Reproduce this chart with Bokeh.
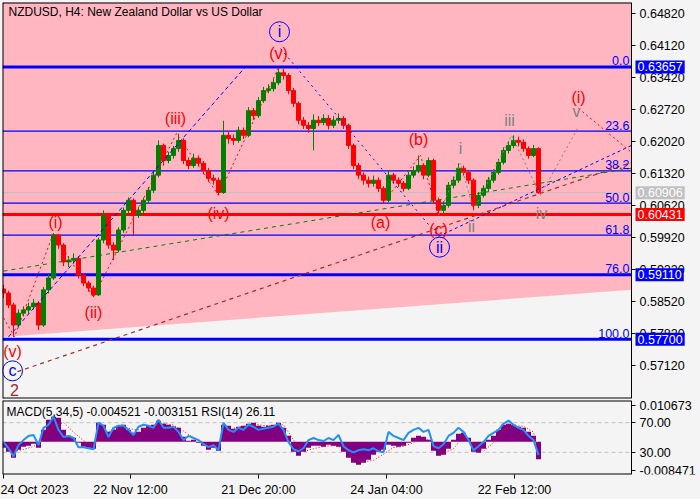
from bokeh.plotting import figure
from bokeh.models import Range1d, FixedTicker, Label, PrintfTickFormatter, ColumnDataSource
from bokeh.layouts import column
from bokeh.embed import file_html
from bokeh.resources import INLINE
from bokeh.core.properties import value

FONT = "Liberation Sans"
BG = "#f4f4f4"
PINK = "#ffb6c1"

# ---------------- data (NZDUSD H4, one sample every 5 bars) ----------------
bar_step = 5
first_open = 0.5880
closes = [0.5871,0.5845,0.5801,0.5827,0.5834,0.5841,0.5849,0.5801,0.5878,0.5904,
          0.5998,0.5976,0.5939,0.5943,0.5947,0.5910,0.5893,0.5882,0.5867,0.5987,
          0.6041,0.5976,0.5965,0.6009,0.6052,0.6074,0.6041,0.6052,0.6074,0.6096,
          0.6129,0.6194,0.6161,0.6172,0.6187,0.6205,0.6161,0.6150,0.6166,0.6155,
          0.6139,0.6122,0.6118,0.6091,0.6216,0.6209,0.6205,0.6227,0.6216,0.6270,
          0.6259,0.6292,0.6314,0.6318,0.6331,0.6353,0.6347,0.6314,0.6286,0.6249,
          0.6238,0.6231,0.6249,0.6244,0.6253,0.6238,0.6249,0.6253,0.6238,0.6194,
          0.6150,0.6129,0.6118,0.6111,0.6118,0.6100,0.6074,0.6129,0.6118,0.6111,
          0.6100,0.6129,0.6139,0.6150,0.6129,0.6161,0.6074,0.6052,0.6063,0.6107,
          0.6118,0.6144,0.6135,0.6118,0.6063,0.6085,0.6100,0.6118,0.6135,0.6157,
          0.6183,0.6194,0.6205,0.6201,0.6187,0.6172,0.6187,0.60906]
highs = [0.5889,0.5876,0.5850,0.5835,0.5842,0.5850,0.5858,0.5853,0.5884,0.5912,
         0.6002,0.6000,0.5980,0.5952,0.5958,0.5952,0.5915,0.5898,0.5887,0.5992,
         0.6052,0.6045,0.5982,0.6015,0.6058,0.6080,0.6078,0.6060,0.6080,0.6103,
         0.6136,0.6205,0.6198,0.6180,0.6193,0.6220,0.6210,0.6168,0.6176,0.6172,
         0.6160,0.6145,0.6130,0.6124,0.6248,0.6225,0.6218,0.6235,0.6233,0.6278,
         0.6276,0.6300,0.6322,0.6328,0.6340,0.6364,0.6362,0.6352,0.6320,0.6290,
         0.6256,0.6245,0.6262,0.6258,0.6262,0.6260,0.6258,0.6264,0.6258,0.6242,
         0.6198,0.6156,0.6135,0.6126,0.6128,0.6124,0.6105,0.6140,0.6134,0.6124,
         0.6116,0.6136,0.6148,0.6172,0.6155,0.6168,0.6165,0.6080,0.6072,0.6114,
         0.6126,0.6155,0.6150,0.6140,0.6122,0.6092,0.6107,0.6125,0.6142,0.6165,
         0.6190,0.6203,0.6216,0.6213,0.6207,0.6192,0.6195,0.6190]
lows = [0.5860,0.5838,0.5775,0.5795,0.5820,0.5826,0.5835,0.5790,0.5797,0.5870,
        0.5900,0.5968,0.5930,0.5928,0.5935,0.5903,0.5886,0.5874,0.5862,0.5865,
        0.5980,0.5968,0.5943,0.5960,0.6003,0.6046,0.5998,0.6035,0.6046,0.6068,
        0.6090,0.6124,0.6150,0.6155,0.6165,0.6180,0.6153,0.6142,0.6145,0.6148,
        0.6131,0.6114,0.6108,0.6085,0.6088,0.6198,0.6195,0.6200,0.6208,0.6212,
        0.6250,0.6254,0.6287,0.6308,0.6312,0.6326,0.6338,0.6306,0.6278,0.6240,
        0.6230,0.6222,0.6183,0.6236,0.6238,0.6229,0.6232,0.6242,0.6230,0.6186,
        0.6142,0.6120,0.6108,0.6102,0.6104,0.6092,0.6067,0.6070,0.6110,0.6103,
        0.6093,0.6096,0.6123,0.6133,0.6120,0.6124,0.6066,0.6041,0.6045,0.6058,
        0.6100,0.6112,0.6128,0.6110,0.6052,0.6057,0.6080,0.6094,0.6112,0.6130,
        0.6152,0.6176,0.6188,0.6192,0.6180,0.6165,0.6168,0.6088]

macd_hist = [-0.00155,-0.00259,-0.00414,-0.00207,-0.00129,-0.00103,-0.00052,-0.00155,0.00310,0.00569,
             0.00647,0.00621,0.00310,0.00155,0.00103,-0.00026,-0.00129,-0.00155,-0.00181,0.00492,
             0.00440,0.00259,0.00310,0.00414,0.00440,0.00310,0.00233,0.00259,0.00362,0.00414,
             0.00440,0.00543,0.00466,0.00440,0.00388,0.00362,0.00129,0.00026,0.00052,-0.00026,
             -0.00103,-0.00207,-0.00155,-0.00233,0.00440,0.00414,0.00336,0.00388,0.00414,0.00466,
             0.00492,0.00414,0.00388,0.00414,0.00440,0.00492,0.00362,0.00155,-0.00259,-0.00362,
             -0.00259,-0.00155,-0.00103,-0.00103,-0.00129,-0.00078,-0.00103,-0.00129,-0.00259,-0.00414,
             -0.00543,-0.00595,-0.00543,-0.00466,-0.00336,-0.00259,-0.00207,-0.00078,-0.00103,-0.00129,
             -0.00103,-0.00026,0.00103,0.00155,0.00129,0.00052,-0.00233,-0.00362,-0.00336,-0.00181,
             0.00052,0.00207,0.00233,0.00103,-0.00259,-0.00285,-0.00181,0.00052,0.00155,0.00310,
             0.00440,0.00466,0.00440,0.00388,0.00362,0.00259,0.00155,-0.004521]
rsi = [43.8,35.5,24.5,39.7,46.5,52.1,53.4,39.7,63.1,67.2,
       78.3,60.3,50.7,52.1,49.3,36.9,36.9,35.5,34.1,70.0,
       65.9,50.7,63.1,65.9,65.9,60.3,53.4,64.5,67.2,65.9,
       63.1,74.1,63.1,63.1,64.5,57.6,46.5,52.1,49.3,46.5,
       41.0,36.9,39.7,32.8,70.0,60.3,57.6,63.1,60.3,67.2,
       64.5,60.3,61.7,63.1,64.5,68.6,60.3,43.8,34.1,31.4,
       35.5,46.5,49.3,46.5,45.2,49.3,46.5,53.4,38.3,32.8,
       30.0,32.8,34.1,32.8,35.5,31.4,30.0,57.6,52.1,49.3,
       46.5,56.2,60.3,63.1,57.6,60.3,38.3,35.5,41.0,52.1,
       56.2,63.1,57.6,46.5,32.8,38.3,43.8,52.1,56.2,60.3,
       68.6,72.8,67.2,63.1,60.3,52.1,46.5,26.11]
signal_bars = list(range(0, 108, 2)) + [107]
signal = [-0.0010,-0.0025,-0.0020,-0.0012,0.0005,0.0040,0.0050,0.0025,0.0003,-0.0012,
          0.0020,0.0032,0.0038,0.0032,0.0030,0.0040,0.0048,0.0043,0.0028,0.0010,
          -0.0002,-0.0014,0.0010,0.0035,0.0040,0.0045,0.0042,0.0042,0.0044,0.0005,
          -0.0025,-0.0018,-0.0012,-0.0010,-0.0015,-0.0040,-0.0052,-0.0048,-0.0032,-0.0015,
          -0.0012,-0.0002,0.0012,-0.0002,-0.0030,-0.0018,0.0015,-0.0005,-0.0025,-0.0002,
          0.0030,0.0042,0.0040,0.0025,-0.003151]

# tick labels
price_ticks = [0.6482, 0.6412, 0.6342, 0.6272, 0.6202, 0.6132, 0.6062, 0.5992, 0.5922, 0.5852, 0.5782, 0.5712]
time_ticks = [0, 127, 255, 383, 511]
time_labels = ["24 Oct 2023", "22 Nov 12:00", "21 Dec 20:00", "24 Jan 04:00", "22 Feb 12:00"]
ind_ticks = [93, 70, 30, 6]
ind_labels = ["0.010673", "70.00", "30.00", "-0.008471"]

# Fibonacci levels
fib_names = ["0.0", "23.6", "38.2", "50.0", "61.8", "76.0", "100.0"]
fib_prices = [0.63657, 0.62251, 0.61381, 0.60679, 0.59976, 0.59110, 0.57700]
thick_levels = [0.63657, 0.59110, 0.57700]
thin_levels = [0.62251, 0.61381, 0.60679, 0.59976]
red_level = 0.60431
bid_level = 0.60906

# shaded zone and drawn objects
pink_zone_x = [-1, 628, 628, -1]
pink_zone_y = [0.6510, 0.6510, 0.5878, 0.5775]
blue_channel = ([5, 242], [0.5775, 0.6366])
blue_down = ([277, 435], [0.6406, 0.5995])
blue_up = ([435, 628], [0.5995, 0.6194])
brown_trend = ([14, 628], [0.5699, 0.6157])
green_trend = ([0, 628], [0.5919, 0.6144])
red_wave_x = [0, 11, 50, 90, 173, 215, 275]
red_wave_y = [0.58165, 0.5775, 0.6002, 0.5862, 0.6220, 0.6085, 0.6364]
abc_x = [379, 417, 435]
abc_y = [0.6067, 0.6172, 0.6041]
gray_wave_x = [435, 457, 470, 508, 537, 574]
gray_wave_y = [0.6041, 0.6155, 0.6052, 0.6216, 0.6085, 0.6231]
red_proj = ([575, 628], [0.6275, 0.6179])

wave_text = ["(v)", "2", "(i)", "(ii)", "(iii)", "(iv)", "(v)", "(a)", "(b)", "(c)",
             "i", "ii", "iii", "iv", "v", "(i)"]
wave_x = [9, 11, 52, 90, 172, 215, 275, 377, 415, 435, 457, 468, 506, 538, 573, 575]
wave_y = [0.57423, 0.56594, 0.6026, 0.58274, 0.62529, 0.60456, 0.63947, 0.6026, 0.62071, 0.60107,
          0.61874, 0.60172, 0.62485, 0.60456, 0.62682, 0.62987]
wave_col = ["#ff0000", "#a52a2a", "#ff0000", "#ff0000", "#ff0000", "#ff0000", "#ff0000", "#ff0000",
            "#ff0000", "#ff0000", "#808080", "#808080", "#808080", "#808080", "#808080", "#ff0000"]
circ_text = ["c", "i", "ii"]
circ_x = [9, 276, 436]
circ_y = [0.57008, 0.64427, 0.59714]

box_levels = [0.63657, 0.60906, 0.60431, 0.59110, 0.57700]
box_text = ["0.63657", "0.60906", "0.60431", "0.59110", "0.57700"]
box_cols = ["#0000ff", "#c0c0c0", "#ff0000", "#0000ff", "#0000ff"]

# chart area limits (bar units) and price range
X0, X1, XW = -1, 628, 697
Y0, Y1 = 0.56403, 0.65067


def style_axis(a):
    a.major_label_text_font = FONT
    a.major_label_text_font_size = "12.5px"
    a.major_label_text_color = "black"
    a.major_tick_out = 4
    a.major_tick_in = 0
    a.minor_tick_out = 0
    a.minor_tick_in = 0
    a.major_label_standoff = 4


# ---------------- main panel ----------------
xs = [i * bar_step for i in range(len(closes))]
opens = [first_open] + closes[:-1]
cols = ["#008000" if c >= o else "#ff0000" for o, c in zip(opens, closes)]
src = ColumnDataSource(dict(x=xs, o=opens, c=closes, h=highs, l=lows, col=cols,
                            top=[max(o, c) for o, c in zip(opens, closes)],
                            bot=[min(o, c) for o, c in zip(opens, closes)]))

xr = Range1d(X0, XW)
# frame covers the full width; the price axis is pinned at the chart's right edge
p = figure(width=700, height=399, x_range=xr, y_range=Range1d(Y0, Y1),
           output_backend="svg", toolbar_location=None, y_axis_location="right", x_axis_location=None,
           min_border_left=2, min_border_right=0, min_border_top=2, min_border_bottom=1,
           background_fill_color=BG, border_fill_color=BG, outline_line_color=None)
p.grid.visible = False

p.patch(pink_zone_x, pink_zone_y, fill_color=PINK, line_color=None)
p.segment(x0=X0, x1=X1, y0=thin_levels, y1=thin_levels, line_color="#0000ff", line_width=1.2)
p.segment(x0=X0, x1=X1, y0=thick_levels, y1=thick_levels, line_color="#0000ff", line_width=3)
p.segment(x0=X0, x1=X1, y0=[bid_level], y1=[bid_level], line_color="#c0c0c0", line_width=1)
p.segment(x0=X0, x1=X1, y0=[red_level], y1=[red_level], line_color="#ff0000", line_width=3)

p.segment("x", "h", "x", "l", source=src, color="col", line_width=1)
p.vbar(x="x", width=4, top="top", bottom="bot", source=src, fill_color="col", line_color="col")

p.line(*blue_channel, line_color="#0000ff", line_width=1, line_dash="4 3")
p.line(*blue_down, line_color="#0000ff", line_width=1, line_dash="2 4")
p.line(*blue_up, line_color="#0000ff", line_width=1, line_dash="3 3")
p.line(*brown_trend, line_color="#a52a2a", line_width=1.2, line_dash="4 4")
p.line(*green_trend, line_color="#008000", line_width=1, line_dash="4 4")
p.line(red_wave_x, red_wave_y, line_color="#ff0000", line_width=1, line_dash="2 3")
p.line(abc_x, abc_y, line_color="#ff0000", line_width=1, line_dash="2 3")
p.line(gray_wave_x, gray_wave_y, line_color="#808080", line_width=1, line_dash="2 3")
p.line(*red_proj, line_color="#ff0000", line_width=1, line_dash="2 3")

p.text(wave_x, wave_y, text=wave_text, text_color=wave_col, text_font=value(FONT),
       text_font_size="16px", text_align="center", text_baseline="middle")
p.scatter(circ_x, circ_y, marker="circle", size=20, fill_alpha=0, line_color="#0000ff", line_width=1)
p.text(circ_x, circ_y, text=circ_text, text_color="#0000ff", text_font=value(FONT),
       text_font_size="16px", text_align="center", text_baseline="middle")

# chart border (top, bottom, left) limited to the chart area
p.segment(x0=[X0, X0, X0], x1=[X1, X1, X0], y0=[Y1, Y0, Y0], y1=[Y1, Y0, Y1],
          line_color="black", line_width=2)

for name, lvl in zip(fib_names, fib_prices):
    p.add_layout(Label(x=626, y=lvl, text=name, text_align="right", text_baseline="middle",
                       y_offset=6, text_color="#0000ff", text_font=FONT, text_font_size="12.5px"))

p.add_layout(Label(x=5, y=0.64864, text="NZDUSD, H4:  New Zealand Dollar vs US Dollar",
                   text_baseline="middle", text_color="black", text_font=FONT, text_font_size="12px"))

ax = p.yaxis[0]
ax.fixed_location = X1
ax.ticker = FixedTicker(ticks=price_ticks)
ax.formatter = PrintfTickFormatter(format="%.5f")
style_axis(ax)
ax.axis_line_color = "black"

for lvl, t, c in zip(box_levels, box_text, box_cols):
    p.add_layout(Label(x=632, y=lvl, text=t, text_baseline="middle", text_color="white",
                       text_font=FONT, text_font_size="12.5px", background_fill_color=c,
                       padding=2))

# ---------------- indicator panel ----------------
q = figure(width=700, height=100, x_range=xr, y_range=Range1d(0, 100),
           output_backend="svg", toolbar_location=None, y_axis_location="right",
           min_border_left=2, min_border_right=0, min_border_top=1, min_border_bottom=24,
           background_fill_color=BG, border_fill_color=BG, outline_line_color=None)
q.extra_y_ranges = {"macd": Range1d(-0.008471, 0.010673)}
q.grid.visible = False
q.segment(x0=X0, x1=X1, y0=[70, 30], y1=[70, 30], line_color="#c0c0c0", line_width=1, line_dash="4 3")
q.vbar(x=xs, width=5, top=macd_hist, bottom=0, y_range_name="macd",
       fill_color="#800080", line_color=None)
q.line([b * bar_step for b in signal_bars], signal, y_range_name="macd",
       line_color="#ff0000", line_width=1, line_dash="1 2")
q.line(xs, rsi, line_color="#1e90ff", line_width=2)
q.segment(x0=[X0, X0, X0], x1=[X1, X1, X0], y0=[100, 0, 0], y1=[100, 0, 100],
          line_color="black", line_width=2)
q.add_layout(Label(x=3, y=85, text="MACD(5,34,5) -0.004521 -0.003151 RSI(14) 26.11",
                   text_baseline="middle", text_color="black", text_font=FONT, text_font_size="12px"))

qy = q.yaxis[0]
qy.fixed_location = X1
qy.ticker = FixedTicker(ticks=ind_ticks)
qy.major_label_overrides = {t: s for t, s in zip(ind_ticks, ind_labels)}
style_axis(qy)
qy.axis_line_color = "black"
qx = q.xaxis[0]
qx.ticker = FixedTicker(ticks=time_ticks)
qx.major_label_overrides = {t: s for t, s in zip(time_ticks, time_labels)}
qx.major_label_text_align = "left"
style_axis(qx)
qx.axis_line_color = None

layout = column(p, q, spacing=0, background=BG)
open("out.html", "w").write(file_html(layout, INLINE))
